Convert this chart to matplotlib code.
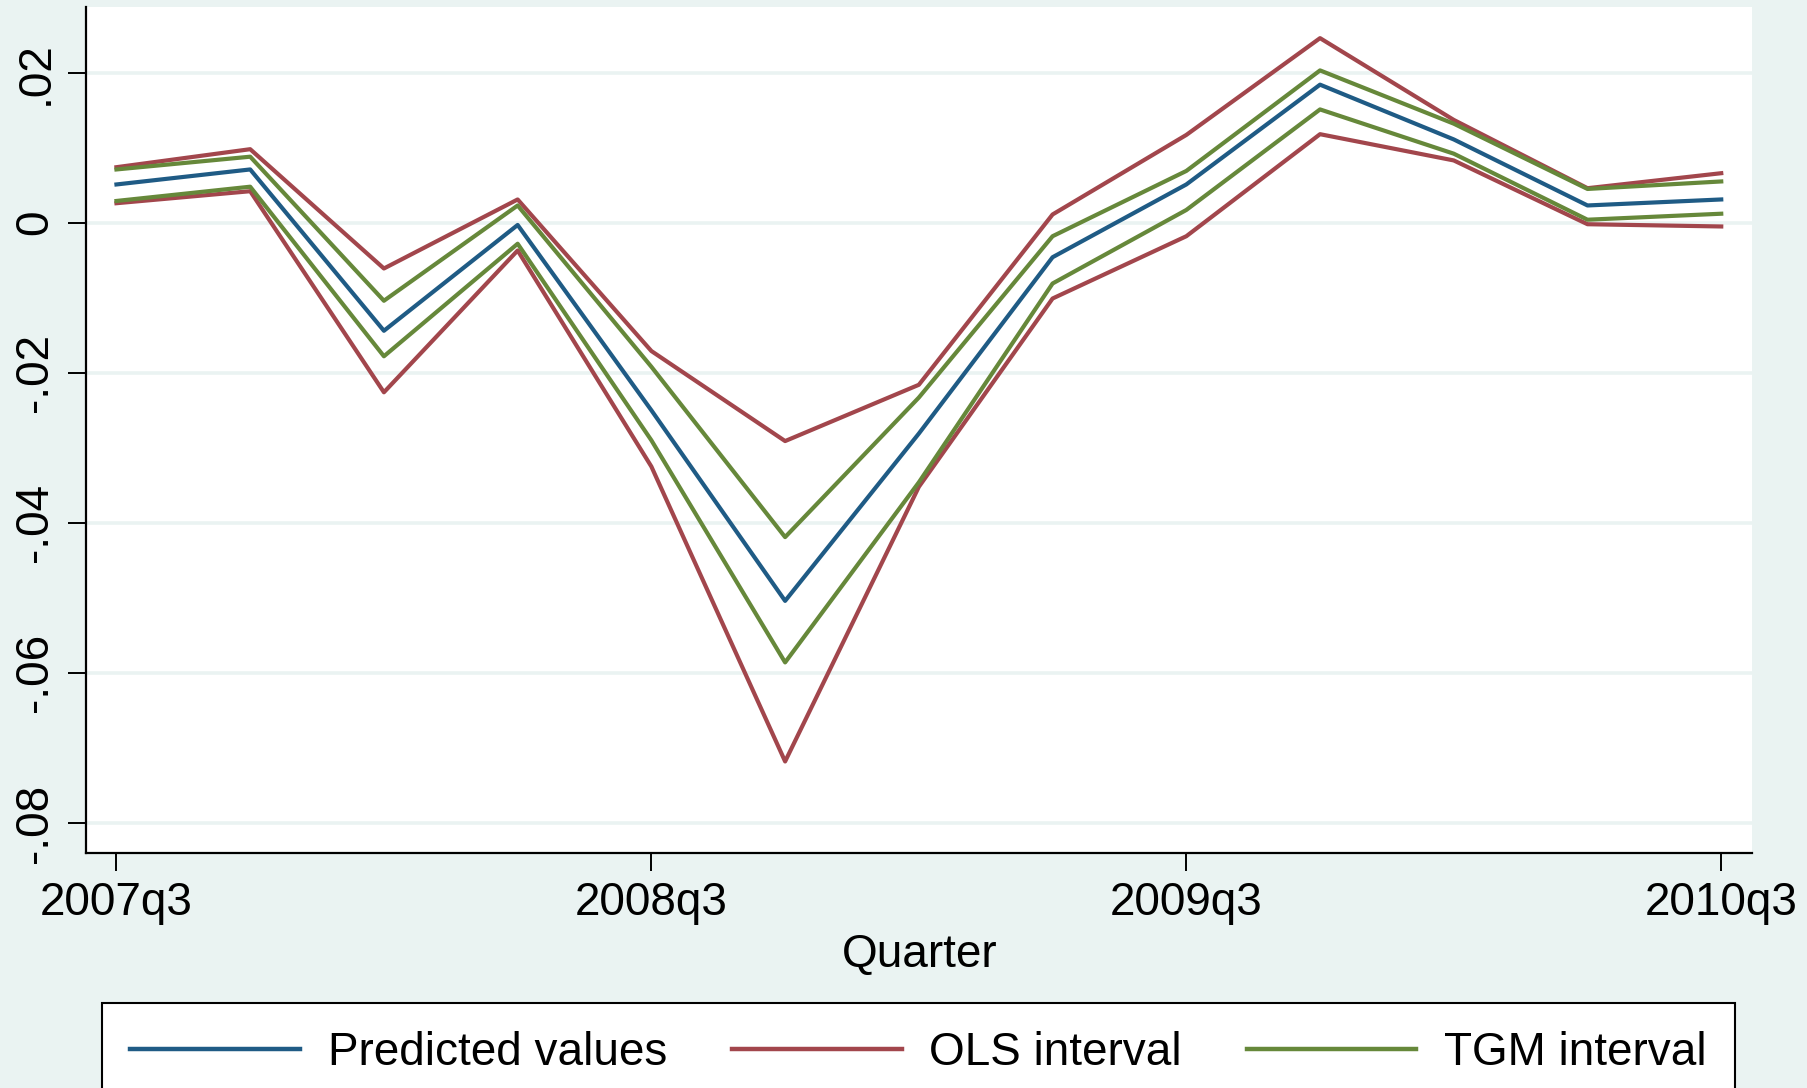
import numpy as np
import matplotlib
matplotlib.use("Agg")
import matplotlib.pyplot as plt

# -- Data ----------------------------------------------------------------
quarters = np.arange(13)  # 2007q3 .. 2010q3
tick_pos = [0, 4, 8, 12]
tick_labels = ["2007q3", "2008q3", "2009q3", "2010q3"]

predicted = [0.0051, 0.0071, -0.0144, -0.0003, -0.0250, -0.0504, -0.0281,
             -0.0046, 0.0051, 0.0184, 0.0111, 0.0023, 0.0031]
ols_upper = [0.0074, 0.0098, -0.0061, 0.0031, -0.0171, -0.0291, -0.0216,
             0.0011, 0.0117, 0.0246, 0.0137, 0.0046, 0.0066]
ols_lower = [0.0026, 0.0042, -0.0226, -0.0037, -0.0325, -0.0718, -0.0352,
             -0.0101, -0.0018, 0.0118, 0.0083, -0.0002, -0.0005]
tgm_upper = [0.0071, 0.0088, -0.0104, 0.0023, -0.0192, -0.0419, -0.0233,
             -0.0018, 0.0069, 0.0203, 0.0132, 0.0045, 0.0055]
tgm_lower = [0.0029, 0.0048, -0.0178, -0.0028, -0.0290, -0.0586, -0.0346,
             -0.0081, 0.0017, 0.0151, 0.0092, 0.0004, 0.0012]

y_ticks = [0.02, 0.0, -0.02, -0.04, -0.06, -0.08]
y_tick_labels = [".02", "0", "-.02", "-.04", "-.06", "-.08"]

# -- Style ---------------------------------------------------------------
BG = "#eaf3f2"
BLUE = "#1f5b85"
RED = "#a2464c"
GREEN = "#66883a"
FS = 33
LW = 3.0

plt.rcParams["font.family"] = ["Liberation Sans", "DejaVu Sans"]

fig = plt.figure(figsize=(18.08, 10.88), dpi=100, facecolor=BG)
ax = fig.add_axes([86.5 / 1808, 1 - 853 / 1088, (1752 - 86.5) / 1808, (853 - 7) / 1088])
ax.set_facecolor("white")

for y in y_ticks:
    ax.axhline(y, color=BG, lw=2.6, zorder=1)

ax.plot(quarters, predicted, color=BLUE, lw=LW, label="Predicted values", zorder=3)
ax.plot(quarters, ols_upper, color=RED, lw=LW, label="OLS interval", zorder=3)
ax.plot(quarters, ols_lower, color=RED, lw=LW, zorder=3)
ax.plot(quarters, tgm_upper, color=GREEN, lw=LW, label="TGM interval", zorder=4)
ax.plot(quarters, tgm_lower, color=GREEN, lw=LW, zorder=4)

ax.set_xlim(-0.224, 12.23)
ax.set_ylim(-0.084, 0.02875)

ax.set_xticks(tick_pos)
ax.set_xticklabels(tick_labels, fontsize=FS)
ax.set_yticks(y_ticks)
ax.set_yticklabels(y_tick_labels, fontsize=FS, rotation=90, va="center")
ax.tick_params(axis="both", length=13, width=1.4, color="black")
ax.tick_params(axis="y", pad=8)
ax.tick_params(axis="x", pad=7)
ax.set_xlabel("Quarter", fontsize=FS, labelpad=6)

for side in ["top", "right"]:
    ax.spines[side].set_visible(False)
for side in ["left", "bottom"]:
    ax.spines[side].set_linewidth(1.6)
    ax.spines[side].set_color("black")

handles, labels = ax.get_legend_handles_labels()
leg = fig.legend(handles, labels, loc="upper left", ncol=3, mode="expand",
                 bbox_to_anchor=(102 / 1808, 1 - 1003 / 1088, (1735 - 102) / 1808, 0.0),
                 fontsize=FS, handlelength=3.7, handletextpad=0.6,
                 borderpad=0.62, borderaxespad=0, fancybox=False, framealpha=1)
leg.get_frame().set_edgecolor("black")
leg.get_frame().set_linewidth(1.5)
for line in leg.get_lines():
    line.set_linewidth(3.2)

fig.savefig("out.png", dpi=100, facecolor=BG)
